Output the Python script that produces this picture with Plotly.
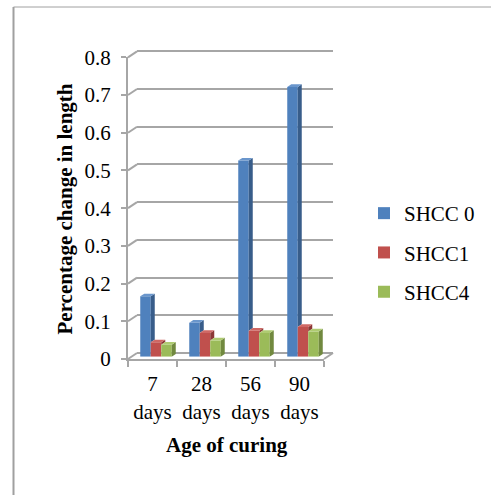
import plotly.graph_objects as go

# ---- data -----------------------------------------------------------------
categories = ["7<br>days", "28<br>days", "56<br>days", "90<br>days"]
series_names = ["SHCC 0", "SHCC1", "SHCC4"]
shcc0 = [0.160, 0.090, 0.520, 0.715]
shcc1 = [0.038, 0.063, 0.069, 0.079]
shcc4 = [0.032, 0.043, 0.063, 0.067]
y_ticks = [0, 0.1, 0.2, 0.3, 0.4, 0.5, 0.6, 0.7, 0.8]
y_ticktext = ["0", "0.1", "0.2", "0.3", "0.4", "0.5", "0.6", "0.7", "0.8"]

# ---- styling --------------------------------------------------------------
W, H = 491, 495
FONT = "Liberation Serif, Times New Roman, serif"
FS = 21
GRID = "#A6A6A6"
front_col = ["#4F81BD", "#C0504D", "#9BBB59"]
side_col = ["#385D8A", "#8C3836", "#71893F"]
top_col = ["#6A96CC", "#CF6865", "#AECB71"]

# pixel geometry of the pseudo-3D box
X0, X1 = 128, 324          # front floor edge
Y0 = 359                   # value 0 on the front plane
K = (359 - 57.3) / 0.8     # pixels per unit value
BACK = (9, -6)             # offset of the back wall
MID = (3.5, -2.3)          # plane holding the bar fronts
DEPTH = (4, -2.7)          # bar depth (right / up)


def fx(px):
    return px / W


def fy(py):
    return 1 - py / H


def ydom(base_px, r0, r1):
    return [fy(base_px - r0 * K), fy(base_px - r1 * K)]


fig = go.Figure()

# empty traces so the front axes and the back-wall grid get drawn
fig.add_trace(go.Scatter(x=categories, y=[None] * len(categories), xaxis="x",
                         yaxis="y", mode="markers", showlegend=False,
                         hoverinfo="skip"))
fig.add_trace(go.Scatter(x=[0], y=[None], xaxis="x2", yaxis="y2",
                         mode="markers", showlegend=False, hoverinfo="skip"))

# ---- bars (front faces) ---------------------------------------------------
xs = list(range(len(categories)))
all_vals = [shcc0, shcc1, shcc4]
for j, (name, vals) in enumerate(zip(series_names, all_vals)):
    fig.add_trace(go.Bar(
        x=xs, y=vals, name=name, xaxis="x3", yaxis="y3",
        marker=dict(color=front_col[j], line=dict(width=0)),
        legendgroup=name, hoverinfo="y+name",
    ))

# ---- side and top faces of each bar ----------------------------------------
bargap = 0.357
bw = (1 - bargap) / 3
dxu = DEPTH[0] / 49.0
dyu = -DEPTH[1] / K
for j, vals in enumerate(all_vals):
    nxt = all_vals[j + 1] if j + 1 < len(all_vals) else None
    for i, v in enumerate(vals):
        c = i + (j - 1) * bw
        L, R = c - bw / 2, c + bw / 2
        lo = 0 if nxt is None else min(nxt[i], v)
        # right side face (part not hidden by the neighbouring bar)
        fig.add_trace(go.Scatter(
            x=[R, R, R + dxu, R + dxu, R], y=[lo, v, v + dyu, lo + dyu, lo],
            xaxis="x3", yaxis="y3", mode="lines", fill="toself",
            fillcolor=side_col[j], line=dict(width=0), showlegend=False,
            hoverinfo="skip"))
        # top face
        fig.add_trace(go.Scatter(
            x=[L, R, R + dxu, L + dxu, L], y=[v, v, v + dyu, v + dyu, v],
            xaxis="x3", yaxis="y3", mode="lines", fill="toself",
            fillcolor=top_col[j], line=dict(width=0), showlegend=False,
            hoverinfo="skip"))

# ---- decorative lines: side-wall grid and floor edge ----------------------
shapes = []
for v in y_ticks:
    yf = Y0 - v * K
    shapes.append(dict(type="line", xref="paper", yref="paper",
                       x0=fx(X0), y0=fy(yf), x1=fx(X0 + BACK[0]), y1=fy(yf + BACK[1]),
                       line=dict(color=GRID, width=2), layer="below"))
shapes.append(dict(type="line", xref="paper", yref="paper",
                   x0=fx(X1), y0=fy(Y0), x1=fx(X1 + BACK[0]), y1=fy(Y0 + BACK[1]),
                   line=dict(color=GRID, width=2), layer="below"))
# outer frame
shapes.append(dict(type="line", xref="paper", yref="paper",
                   x0=fx(13.5), y0=fy(7), x1=fx(13.5), y1=0,
                   line=dict(color="#A0A0A0", width=2)))
shapes.append(dict(type="line", xref="paper", yref="paper",
                   x0=fx(13.5), y0=fy(7), x1=1, y1=fy(7),
                   line=dict(color="#A0A0A0", width=1)))

tickfont = dict(family=FONT, size=FS, color="black")

fig.update_layout(
    width=W, height=H, autosize=False,
    margin=dict(l=0, r=0, t=0, b=0, pad=0, autoexpand=False),
    paper_bgcolor="white", plot_bgcolor="rgba(0,0,0,0)",
    barmode="group", bargap=bargap, bargroupgap=0,
    font=dict(family=FONT, size=FS, color="black"),
    showlegend=True,
    legend=dict(x=fx(364), y=fy(193), xanchor="left", yanchor="top",
                font=dict(family=FONT, size=FS, color="black"),
                tracegroupgap=9, bgcolor="rgba(0,0,0,0)"),
    shapes=shapes,
    # front plane: category axis and value axis with labels
    xaxis=dict(domain=[fx(X0), fx(X1)], type="category", range=[-0.5, 3.5],
               categoryorder="array", categoryarray=categories,
               tickvals=categories, ticktext=categories,
               tickson="boundaries", ticks="outside", ticklen=6,
               tickcolor=GRID, tickwidth=2, showline=True, linecolor=GRID,
               linewidth=2, showgrid=False, zeroline=False, tickfont=tickfont,
               ticklabelstandoff=5,
               anchor="y", fixedrange=True, automargin=False),
    yaxis=dict(domain=ydom(Y0, 0, 0.8), range=[0, 0.8], tickvals=y_ticks,
               ticktext=y_ticktext, ticks="outside", ticklen=5, tickcolor=GRID,
               tickwidth=2, showline=True, linecolor=GRID, linewidth=2,
               showgrid=False, zeroline=False, tickfont=tickfont,
               ticklabelstandoff=6, anchor="x", fixedrange=True,
               automargin=False),
    # back wall grid
    xaxis2=dict(domain=[fx(X0 + BACK[0]), fx(X1 + BACK[0])], range=[-0.5, 3.5],
                showgrid=False, showticklabels=False, ticks="", showline=False,
                zeroline=False, anchor="y2", fixedrange=True, automargin=False),
    yaxis2=dict(domain=ydom(Y0 + BACK[1], -0.02, 0.82), range=[-0.02, 0.82],
                tickvals=y_ticks, showgrid=True, gridcolor=GRID, gridwidth=2,
                showticklabels=False, ticks="", showline=False, zeroline=False,
                anchor="x2", fixedrange=True, automargin=False),
    # bar plane
    xaxis3=dict(domain=[fx(X0 + MID[0]), fx(X1 + MID[0])], range=[-0.5, 3.5],
                type="linear", visible=False, anchor="y3", fixedrange=True),
    yaxis3=dict(domain=ydom(Y0 + MID[1], 0, 0.8), range=[0, 0.8],
                visible=False, anchor="x3", fixedrange=True),
    annotations=[
        dict(text="<b>Percentage change in length</b>", xref="paper", yref="paper",
             x=fx(65), y=fy(209.5), textangle=-90, showarrow=False,
             xanchor="center", yanchor="middle",
             font=dict(family=FONT, size=FS, color="black")),
        dict(text="<b>Age of curing</b>", xref="paper", yref="paper",
             x=fx(227), y=fy(445), showarrow=False, xanchor="center",
             yanchor="middle", font=dict(family=FONT, size=FS, color="black")),
    ],
)

fig.write_html("out.html")
